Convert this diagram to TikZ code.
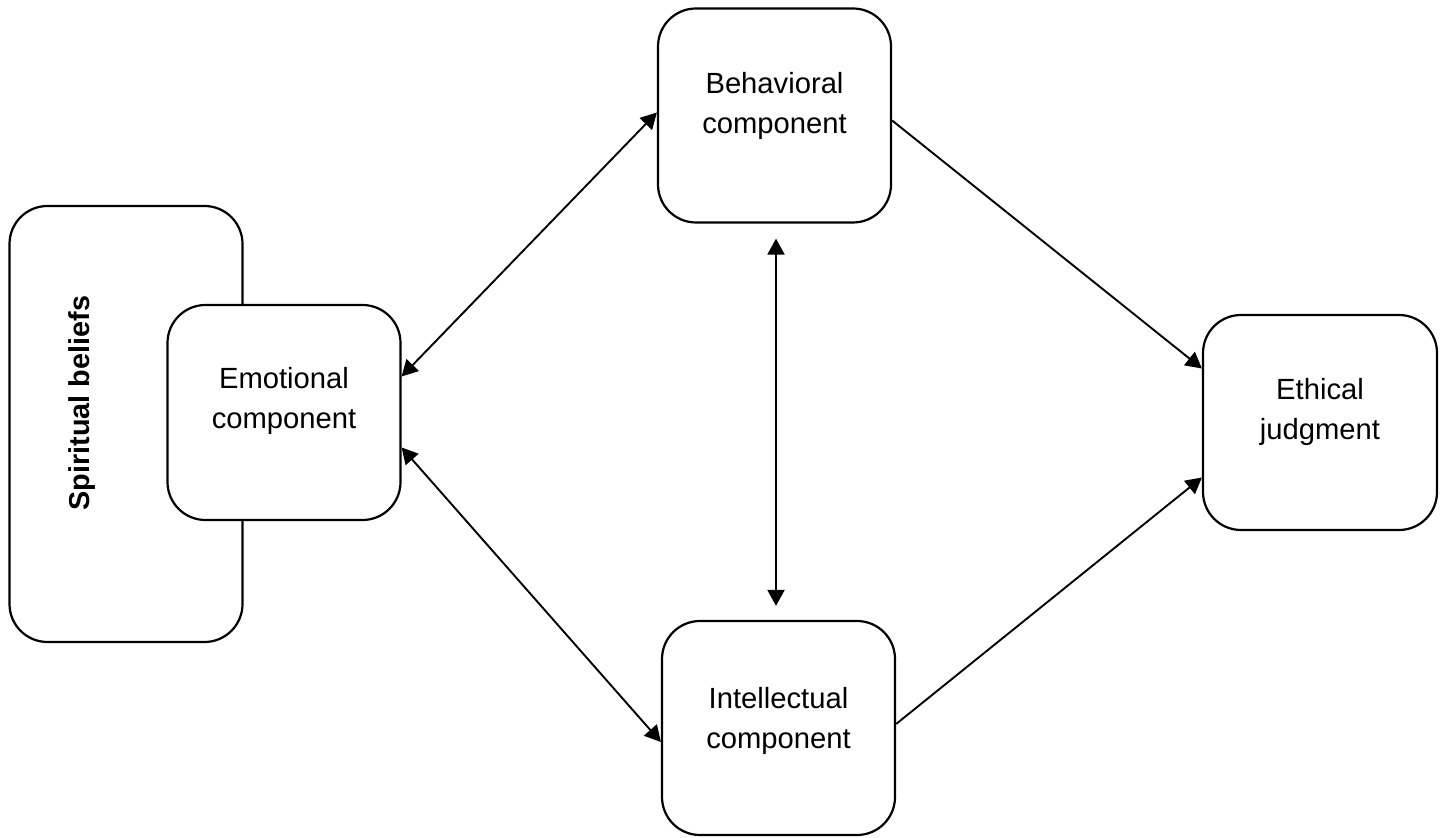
\documentclass[tikz,border=0pt]{standalone}
\usepackage{fontspec}
\setmainfont{Liberation Sans}
\usetikzlibrary{arrows.meta,calc}

\begin{document}
\begin{tikzpicture}[x=0.5pt, y=-0.5pt, >={Triangle[length=8pt,width=8.5pt]},
  every box/.style={draw, fill=white, rounded corners=19pt, line width=1.1pt},
  every label/.style={align=center, font=\fontsize{14.6}{20}\selectfont},
  link/.style={line width=0.95pt}]

\useasboundingbox (0,0) rectangle (1443,838);

% outer box
\node [every box, minimum width=116.5pt, minimum height=218pt] (spirit) at (126,424) {};
\node [every label, font=\fontsize{14.4}{20}\selectfont\bfseries, rotate=90] (spirit-text) at (82,403) {Spiritual beliefs};

% components
\foreach \n/\x/\y/\w/\h in {emot/284/412.5/116.5/107.5, behav/774.5/115.5/116.5/107, intel/778.5/728/116.5/107, ethic/1320/422.5/117/107.5}
  \node [every box, minimum width=\w pt, minimum height=\h pt] (\n) at (\x,\y) {};

\foreach \n/\dy/\t in {emot/-12/Emotional\\component, behav/-10/Behavioral\\component, intel/-7/Intellectual\\component, ethic/-11/Ethical\\judgment}
  \node [every label] (\n-text) at ($(\n.center)+(0,\dy)$) {\t};

\draw [<->, link] ($(emot.east)+(0,-36)$) -- ($(behav.west)+(0,-3)$);
\draw [<->, link] ($(emot.east)+(0,35)$) -- ($(intel.west)+(0,14)$);
\draw [<->, link] ($(behav.south)+(1.5,15)$) -- ($(intel.north)+(-2.5,-14)$);

\draw [->, link] ($(behav.east)+(0,5)$) -- ($(ethic.west)+(0,-54)$);
\draw [->, link] ($(intel.east)+(0,-4)$) -- ($(ethic.west)+(0,55)$);

\end{tikzpicture}
\end{document}
